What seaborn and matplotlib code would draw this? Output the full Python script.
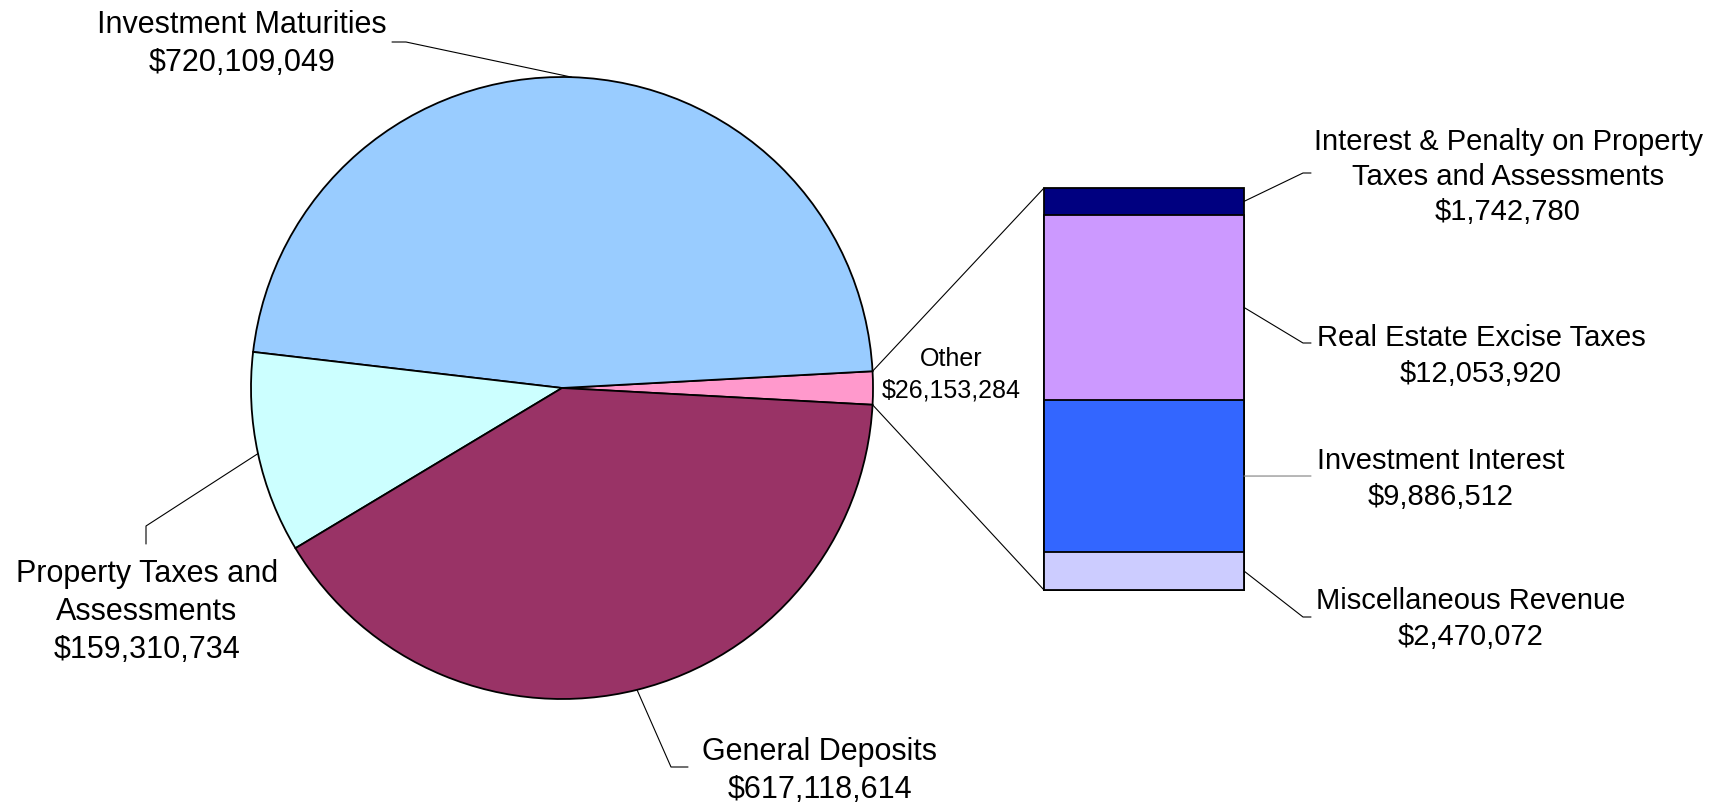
import numpy as np
import pandas as pd
import matplotlib
matplotlib.use('Agg')
import matplotlib.pyplot as plt
import seaborn as sns
from matplotlib.lines import Line2D
from matplotlib.patches import ConnectionPatch

# ── Data ──
PIE_LABELS = ['Other', 'Investment Maturities', 'Property Taxes and\nAssessments', 'General Deposits']
PIE_VALUES = [26153284, 720109049, 159310734, 617118614]
PIE_COLORS = ['#FF99CC', '#99CCFF', '#CCFFFF', '#993366']

# bottom -> top
BAR_LABELS = ['Miscellaneous Revenue', 'Investment Interest',
              'Real Estate Excise Taxes', 'Interest & Penalty on Property\nTaxes and Assessments']
BAR_VALUES = [2470072, 9886512, 12053920, 1742780]
BAR_COLORS = ['#CCCCFF', '#3366FF', '#CC99FF', '#000080']

sns.set_theme(style='white')
plt.rcParams['font.family'] = ['Liberation Sans', 'DejaVu Sans']

W, H = 1722, 806
fig = plt.figure(figsize=(W / 100, H / 100), dpi=100)


def frac(x, y_top):
    """pixel (origin top-left) -> figure fraction"""
    return x / W, 1 - y_top / H


def money(v):
    return f'${v:,.0f}'


# ── Pie ──
cx, cy, r = 562, 388, 311
ax_pie = fig.add_axes([(cx - r) / W, (H - cy - r) / H, 2 * r / W, 2 * r / H])
other_frac = PIE_VALUES[0] / sum(PIE_VALUES)
wedges, _ = ax_pie.pie(PIE_VALUES, colors=PIE_COLORS, startangle=-other_frac * 180,
                       counterclock=True,
                       wedgeprops=dict(edgecolor='black', linewidth=1.3))
ax_pie.set_aspect('auto')
ax_pie.set_xlim(-1, 1)
ax_pie.set_ylim(-1, 1)
ax_pie.axis('off')

# ── Stacked bar (cumulative layers, largest first) ──
bx0, bx1, by0, by1 = 1044, 1244, 188, 590
ax_bar = fig.add_axes([bx0 / W, (H - by1) / H, (bx1 - bx0) / W, (by1 - by0) / H])
cum = np.cumsum(BAR_VALUES)
for i in range(len(BAR_VALUES) - 1, -1, -1):
    df = pd.DataFrame({'x': ['Other'], 'y': [cum[i]]})
    sns.barplot(data=df, x='x', y='y', color=BAR_COLORS[i], saturation=1,
                width=1, edgecolor='black', linewidth=1.3, ax=ax_bar)
for p in ax_bar.patches:
    p.set_clip_on(False)
ax_bar.set_xlim(-0.5, 0.5)
ax_bar.set_ylim(0, cum[-1])
ax_bar.axis('off')

# ── Connector lines pie -> bar ──
t_hi = np.deg2rad(wedges[0].theta2)
t_lo = np.deg2rad(wedges[0].theta1)
for ang, yb in [(t_hi, cum[-1]), (t_lo, 0)]:
    con = ConnectionPatch(xyA=(np.cos(ang), np.sin(ang)), coordsA=ax_pie.transData,
                          xyB=(-0.5, yb), coordsB=ax_bar.transData,
                          color='black', linewidth=0.8)
    fig.add_artist(con)

inv = fig.transFigure.inverted()


def leader(ax, pt, knees, color='black'):
    p0 = inv.transform(ax.transData.transform(pt))
    pts = [p0] + [frac(*k) for k in knees]
    xs, ys = zip(*pts)
    fig.add_artist(Line2D(xs, ys, transform=fig.transFigure, color=color, linewidth=0.8))


def label(x, y, text, size=22, ls=1.35):
    fx, fy = frac(x, y + 3)
    fig.text(fx, fy, text, ha='center', va='center', fontsize=size,
             linespacing=ls, color='black')


# pie leaders
mid = [np.deg2rad((w.theta1 + w.theta2) / 2) for w in wedges]
leader(ax_pie, (np.cos(mid[1]), np.sin(mid[1])), [(406, 42), (392, 42)])
leader(ax_pie, (np.cos(mid[2]), np.sin(mid[2])), [(146, 526), (146, 544)])
leader(ax_pie, (np.cos(mid[3]), np.sin(mid[3])), [(671, 767), (688, 767)])

label(242, 41, f'{PIE_LABELS[1]}\n{money(PIE_VALUES[1])}')
label(147, 609, f'{PIE_LABELS[2]}\n{money(PIE_VALUES[2])}')
label(820, 768, f'{PIE_LABELS[3]}\n{money(PIE_VALUES[3])}')
label(951, 372, f'{PIE_LABELS[0]}\n{money(PIE_VALUES[0])}', size=18, ls=1.4)

# bar leaders
bar_mid = cum - np.array(BAR_VALUES) / 2
bar_knees = [[(1303, 617), (1311, 617)],
             [(1311, 476)],
             [(1303, 343), (1311, 343)],
             [(1303, 173), (1311, 173)]]
bar_text = [(1471, 616), (1441, 476), (1481, 353), (1508, 174)]
for i in range(len(BAR_VALUES)):
    leader(ax_bar, (0.5, bar_mid[i]), bar_knees[i],
           color='#808080' if i == 1 else 'black')
    label(*bar_text[i], f'{BAR_LABELS[i]}\n{money(BAR_VALUES[i])}', size=21, ls=1.32)

fig.savefig('out.png', dpi=100)
